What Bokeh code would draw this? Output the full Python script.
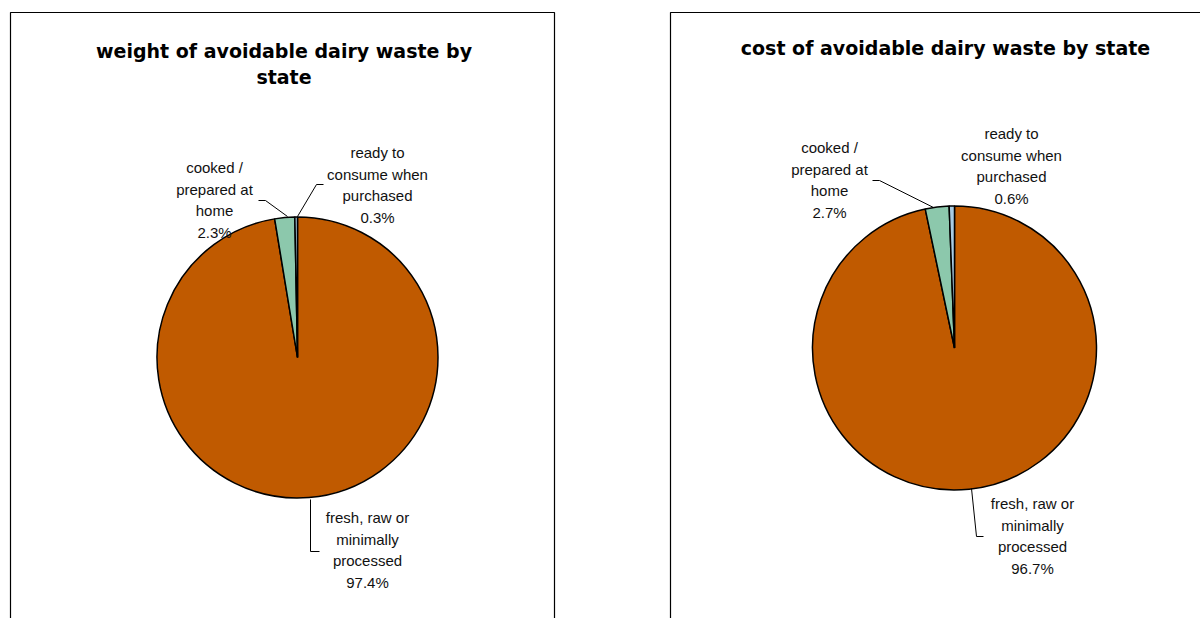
from math import pi
from bokeh.plotting import figure
from bokeh.models import Range1d
from bokeh.core.properties import value
from bokeh.embed import file_html
from bokeh.resources import INLINE

# ---- data ----
categories = ["fresh, raw or\nminimally\nprocessed", "cooked /\nprepared at\nhome", "ready to\nconsume when\npurchased"]
weight_pct = [97.4, 2.3, 0.3]
cost_pct = [96.7, 2.7, 0.6]
titles = ["weight of avoidable dairy waste by\nstate", "cost of avoidable dairy waste by state"]
colors = ["#C05A00", "#8CC8AC", "#A8CCE4"]

W, H = 1200, 618
PAGE_H = 618


def Y(py):
    return PAGE_H - py


p = figure(width=W, height=H, output_backend="svg", toolbar_location=None,
           x_range=Range1d(0, W), y_range=Range1d(PAGE_H - H, PAGE_H),
           min_border=0)
p.axis.visible = False
p.grid.visible = False
p.outline_line_color = None
p.background_fill_color = "white"
p.border_fill_color = "white"

FONT = value("Liberation Sans")
TFONT = value("DejaVu Sans")

# panel borders (extend beyond the visible window, clipped)
p.line([10, 10, 554, 554], [Y(700), Y(12), Y(12), Y(700)], line_color="black", line_width=1.2)
p.line([670, 670, 1300], [Y(700), Y(12), Y(12)], line_color="black", line_width=1.2)

panels = [
    dict(vals=weight_pct, title=titles[0], cx=297, cy=357, r=140.5, tx=283.5, tby=[50, 76.5],
         labels=[(367, 517), (214, 167), (377, 152)],
         leaders=[[(310, 499), (310, 551), (319, 551)],
                  [(258, 200), (265, 200), (287, 216)],
                  [(323, 184), (316, 184), (297, 216)]]),
    dict(vals=cost_pct, title=titles[1], cx=954, cy=347.5, r=142, tx=945, tby=[47],
         labels=[(1032, 503), (829, 147), (1011, 133)],
         leaders=[[(971, 488), (976, 536), (983, 536)],
                  [(872, 180), (879, 180), (933, 207)]]),
]

LINE_SP = 21.5

for pan in panels:
    vals = pan["vals"]
    total = sum(vals)
    cum = 0.0
    starts, ends = [], []
    for v in vals:
        starts.append(pi / 2 - 2 * pi * cum / total)
        cum += v
        ends.append(pi / 2 - 2 * pi * cum / total)
    p.wedge(x=[pan["cx"]] * len(vals), y=[Y(pan["cy"])] * len(vals), radius=pan["r"],
            start_angle=starts, end_angle=ends, direction="clock",
            fill_color=colors, line_color="black", line_width=1.5)

    # title
    for line, by in zip(pan["title"].split("\n"), pan["tby"]):
        p.text(x=[pan["tx"]], y=[Y(by)], text=[line], text_font=TFONT, text_font_style="bold",
               text_font_size="19px", text_align="center", text_baseline="alphabetic",
               text_color="black")

    # leader lines
    for seg in pan["leaders"]:
        p.line([a for a, b in seg], [Y(b) for a, b in seg], line_color="black", line_width=1)

    # data labels
    for cat, v, (lx, ly) in zip(categories, vals, pan["labels"]):
        lines = cat.split("\n") + [f"{v:.1f}%"]
        xs = [lx] * len(lines)
        ys = [Y(ly + i * LINE_SP) for i in range(len(lines))]
        p.text(x=xs, y=ys, text=lines, text_font=FONT, text_font_size="15px",
               text_align="center", text_baseline="middle", text_color="#111111")

open("out.html", "w").write(file_html(p, INLINE))
